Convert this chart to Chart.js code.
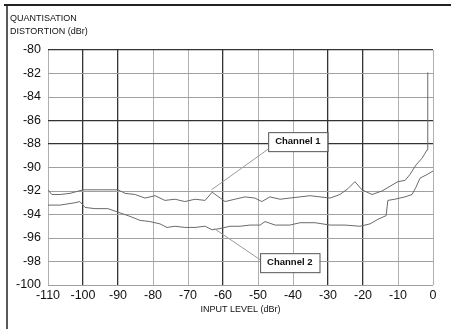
<!DOCTYPE html>
<html><head><meta charset="utf-8">
<script src="https://cdn.jsdelivr.net/npm/chart.js@4/dist/chart.umd.min.js"></script>
<style>html,body{margin:0;padding:0;background:#fff}#wrap{width:451px;height:329px;position:relative}</style>
</head><body><div id="wrap"><canvas id="c"></canvas></div>
<script>
const yTitle = ["QUANTISATION", "DISTORTION (dBr)"];
const xTitle = "INPUT LEVEL (dBr)";
const seriesNames = ["Channel 1", "Channel 2"];
const ch1X = [-110,-108.9,-106.6,-103.7,-100,-95.1,-90,-88,-85.1,-82.3,-79.4,-76.6,-73.7,-70.9,-68,-65.1,-63.1,-59.4,-56.6,-53.7,-50.9,-48.9,-46.6,-43.7,-40.9,-38,-35.1,-32.3,-29.4,-26.6,-24.3,-22.3,-20.3,-17.4,-14.6,-12.3,-10,-8,-6.6,-4.9,-3.1,-1.7,-1.5];
const ch1Y = [-91.9,-92.3,-92.3,-92.2,-91.9,-91.9,-91.9,-92.2,-92.3,-92.6,-92.4,-92.8,-92.7,-92.9,-92.7,-92.8,-92.1,-92.9,-92.7,-92.5,-92.6,-92.9,-92.5,-92.7,-92.6,-92.5,-92.4,-92.5,-92.6,-92.3,-91.8,-91.2,-91.9,-92.3,-92.0,-91.6,-91.2,-91.1,-90.6,-89.8,-89.2,-88.5,-81.9];
const ch2X = [-110,-106.6,-102.3,-100.9,-99.4,-96.6,-92.9,-90,-87.1,-83.7,-80.9,-78,-76,-73.7,-70.9,-68,-65.1,-63.1,-60.9,-58,-55.1,-52.3,-49.4,-48,-45.1,-40.9,-38,-33.7,-29.4,-25.1,-20.9,-18,-15.7,-13.4,-12.9,-10.9,-8,-6,-4.9,-3.7,-1.7,0];
const ch2Y = [-93.2,-93.2,-93.0,-92.9,-93.4,-93.5,-93.5,-93.8,-94.1,-94.5,-94.6,-94.8,-95.1,-95.0,-95.1,-95.1,-95.0,-95.3,-95.2,-95.0,-95.0,-94.9,-94.9,-94.6,-94.9,-94.9,-94.7,-94.7,-94.9,-94.9,-95.0,-94.8,-94.4,-94.1,-92.8,-92.7,-92.5,-92.3,-91.7,-90.9,-90.6,-90.3];
// label anchor positions (data units) and the curve point each leader indicates
const labelAt = [{x:-47.1, y:-87.8, tx:-63.3, ty:-91.9}, {x:-49.4, y:-98.1, tx:-62.5, ty:-95.2}];
const darkX = [-100,-90,-60,-30,-20];
const darkY = [-80,-86,-88];

const pts = (xs, ys) => xs.map((x, i) => ({x, y: ys[i]}));
const font = "'Liberation Sans', Arial, sans-serif";

const overlay = {
  id: 'overlay',
  afterDraw(chart) {
    const ctx = chart.ctx, xs = chart.scales.x, ys = chart.scales.y;
    ctx.save();
    // page frame
    ctx.strokeStyle = '#222'; ctx.lineWidth = 2;
    ctx.beginPath(); ctx.moveTo(4, 5); ctx.lineTo(451, 5); ctx.stroke();
    ctx.lineWidth = 1.5;
    ctx.beginPath(); ctx.moveTo(7, 5); ctx.lineTo(7, 329); ctx.stroke();
    // y title
    ctx.fillStyle = '#111'; ctx.font = "9px " + font; ctx.textBaseline = 'alphabetic';
    ctx.fillText(yTitle[0], 10, 21);
    ctx.fillText(yTitle[1], 10, 34);
    // labels with leaders
    ctx.font = "bold 9.5px " + font;
    labelAt.forEach((l, i) => {
      const px = xs.getPixelForValue(l.x), py = ys.getPixelForValue(l.y);
      const w = ctx.measureText(seriesNames[i]).width + 14, h = 19;
      ctx.strokeStyle = '#999'; ctx.lineWidth = 1;
      ctx.beginPath();
      const sx = px, sy = i === 0 ? py + h / 2 - 2 : py - 3;
      ctx.moveTo(sx, sy);
      ctx.lineTo(xs.getPixelForValue(l.tx), ys.getPixelForValue(l.ty));
      ctx.stroke();
      ctx.fillStyle = '#fff'; ctx.fillRect(px, py - h / 2, w, h);
      ctx.strokeStyle = '#555';
      ctx.strokeRect(px + 0.5, py - h / 2 + 0.5, w, h);
      ctx.fillStyle = '#111'; ctx.textBaseline = 'middle';
      ctx.fillText(seriesNames[i], px + 7, py);
    });
    ctx.restore();
  }
};

new Chart(document.getElementById('c'), {
  type: 'line',
  data: {
    datasets: [
      {label: seriesNames[0], data: pts(ch1X, ch1Y), borderColor: '#6a6a6a', borderWidth: 1, pointRadius: 0, tension: 0},
      {label: seriesNames[1], data: pts(ch2X, ch2Y), borderColor: '#6a6a6a', borderWidth: 1, pointRadius: 0, tension: 0}
    ]
  },
  options: {
    responsive: true, maintainAspectRatio: false, animation: false,
    layout: {padding: {top: 50, right: 18, left: 0, bottom: 14}},
    plugins: {legend: {display: false}, tooltip: {enabled: false}},
    scales: {
      x: {
        type: 'linear', min: -110, max: 0,
        afterFit(s) { s.height = 30; },
        ticks: {stepSize: 10, color: '#111', font: {family: font, size: 12.5}, padding: 3, maxRotation: 0},
        border: {display: false},
        grid: {drawTicks: false, color: c => darkX.includes(c.tick && c.tick.value) ? '#333' : '#b0b0b0', lineWidth: c => darkX.includes(c.tick && c.tick.value) ? 1.3 : 1},
        title: {display: true, text: xTitle, color: '#111', font: {family: font, size: 9}, padding: {top: 0, bottom: 0}}
      },
      y: {
        type: 'linear', min: -100, max: -80,
        afterFit(s) { s.width = 48; },
        ticks: {stepSize: 2, color: '#111', font: {family: font, size: 12.5}, padding: 7},
        border: {display: false},
        grid: {drawTicks: false, color: c => darkY.includes(c.tick && c.tick.value) ? '#333' : '#a0a0a0', lineWidth: c => darkY.includes(c.tick && c.tick.value) ? 1.3 : 1}
      }
    }
  },
  plugins: [overlay]
});
</script>
</body></html>
